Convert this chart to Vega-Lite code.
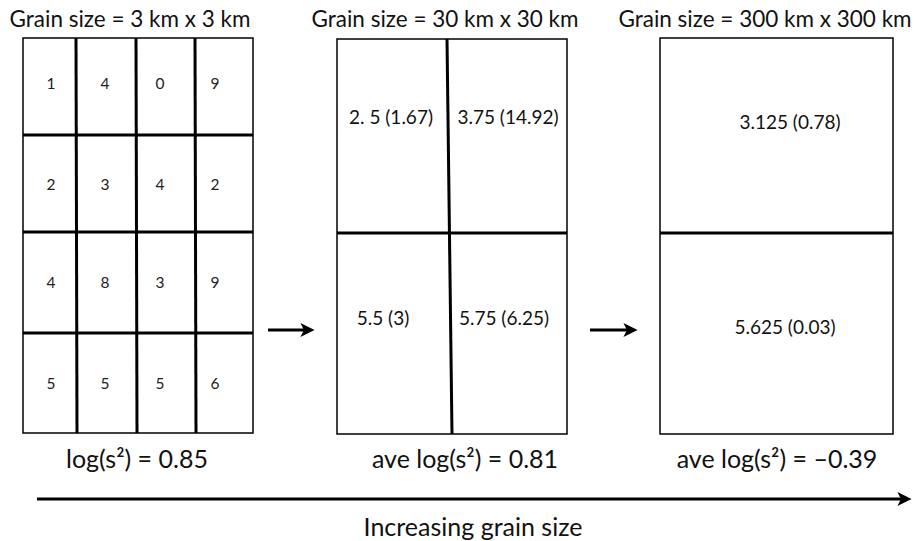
{
  "$schema": "https://vega.github.io/schema/vega-lite/v6.json",
  "width": 914,
  "height": 541,
  "autosize": {"type": "fit", "contains": "padding"},
  "padding": 0,
  "background": "white",
  "config": {"view": {"stroke": null}, "font": "Lato"},
  "datasets": {
    "boxes": [
      {"x1": 23, "x2": 253, "y1": 38, "y2": 433},
      {"x1": 337, "x2": 567, "y1": 39, "y2": 434},
      {"x1": 660, "x2": 893, "y1": 38, "y2": 434}
    ],
    "lines": [
      {"x1": 76, "x2": 77, "y1": 38, "y2": 433},
      {"x1": 136, "x2": 137, "y1": 38, "y2": 433},
      {"x1": 195, "x2": 196, "y1": 38, "y2": 433},
      {"x1": 23, "x2": 253, "y1": 135, "y2": 135},
      {"x1": 23, "x2": 253, "y1": 232, "y2": 232},
      {"x1": 23, "x2": 253, "y1": 333, "y2": 333},
      {"x1": 447, "x2": 452, "y1": 39, "y2": 434},
      {"x1": 337, "x2": 567, "y1": 233, "y2": 233},
      {"x1": 660, "x2": 893, "y1": 233, "y2": 233}
    ],
    "texts": [
      {"kind": "cell", "x": 51, "y": 89, "label": "1"},
      {"kind": "cell", "x": 105, "y": 89, "label": "4"},
      {"kind": "cell", "x": 160, "y": 89, "label": "0"},
      {"kind": "cell", "x": 215, "y": 89, "label": "9"},
      {"kind": "cell", "x": 51, "y": 190, "label": "2"},
      {"kind": "cell", "x": 105, "y": 190, "label": "3"},
      {"kind": "cell", "x": 160, "y": 190, "label": "4"},
      {"kind": "cell", "x": 215, "y": 190, "label": "2"},
      {"kind": "cell", "x": 51, "y": 288, "label": "4"},
      {"kind": "cell", "x": 105, "y": 288, "label": "8"},
      {"kind": "cell", "x": 160, "y": 288, "label": "3"},
      {"kind": "cell", "x": 215, "y": 288, "label": "9"},
      {"kind": "cell", "x": 51, "y": 389, "label": "5"},
      {"kind": "cell", "x": 105, "y": 389, "label": "5"},
      {"kind": "cell", "x": 160, "y": 389, "label": "5"},
      {"kind": "cell", "x": 215, "y": 389, "label": "6"},
      {"kind": "block", "x": 391, "y": 124, "label": "2. 5 (1.67)"},
      {"kind": "block", "x": 508, "y": 124, "label": "3.75 (14.92)"},
      {"kind": "block", "x": 383, "y": 325, "label": "5.5 (3)"},
      {"kind": "block", "x": 504, "y": 325, "label": "5.75 (6.25)"},
      {"kind": "block", "x": 790, "y": 129, "label": "3.125 (0.78)"},
      {"kind": "block", "x": 785, "y": 334, "label": "5.625 (0.03)"},
      {"kind": "title", "x": 130, "y": 27, "label": "Grain size = 3 km x 3 km"},
      {"kind": "title", "x": 445, "y": 27, "label": "Grain size = 30 km x 30 km"},
      {"kind": "title", "x": 765, "y": 27, "label": "Grain size = 300 km x 300 km"},
      {"kind": "stat", "x": 137, "y": 468, "label": "log(s²) = 0.85"},
      {"kind": "stat", "x": 465, "y": 468, "label": "ave log(s²) = 0.81"},
      {"kind": "stat", "x": 777, "y": 468, "label": "ave log(s²) = –0.39"},
      {"kind": "stat", "x": 473, "y": 536, "label": "Increasing grain size"}
    ],
    "arrows": [
      {"x1": 268, "x2": 305, "y": 330, "hx": 307.5},
      {"x1": 590, "x2": 628, "y": 330, "hx": 630.5},
      {"x1": 37, "x2": 902, "y": 499, "hx": 904.5}
    ]
  },
  "layer": [
    {
      "data": {"name": "boxes"},
      "mark": {"type": "rect", "fill": "white", "stroke": "black", "strokeWidth": 1.5},
      "encoding": {
        "x": {"field": "x1", "type": "quantitative", "scale": {"domain": [0, 914], "nice": false, "zero": false}, "axis": null},
        "x2": {"field": "x2"},
        "y": {"field": "y1", "type": "quantitative", "scale": {"domain": [0, 541], "nice": false, "zero": false, "reverse": true}, "axis": null},
        "y2": {"field": "y2"}
      }
    },
    {
      "data": {"name": "lines"},
      "mark": {"type": "rule", "stroke": "black", "strokeWidth": 3},
      "encoding": {
        "x": {"field": "x1", "type": "quantitative"},
        "x2": {"field": "x2"},
        "y": {"field": "y1", "type": "quantitative"},
        "y2": {"field": "y2"}
      }
    },
    {
      "data": {"name": "arrows"},
      "mark": {"type": "rule", "stroke": "black", "strokeWidth": 3},
      "encoding": {
        "x": {"field": "x1", "type": "quantitative"},
        "x2": {"field": "x2"},
        "y": {"field": "y", "type": "quantitative"}
      }
    },
    {
      "data": {"name": "arrows"},
      "mark": {"type": "point", "shape": "M-1,-1 L1,0 L-1,1 L-0.5,0 Z", "filled": true, "color": "black", "size": 200, "opacity": 1},
      "encoding": {
        "x": {"field": "hx", "type": "quantitative"},
        "y": {"field": "y", "type": "quantitative"}
      }
    },
    {
      "data": {"name": "texts"},
      "transform": [{"filter": "datum.kind === 'cell'"}],
      "mark": {"type": "text", "fontSize": 15.5, "align": "center", "baseline": "alphabetic", "color": "#222"},
      "encoding": {
        "x": {"field": "x", "type": "quantitative"},
        "y": {"field": "y", "type": "quantitative"},
        "text": {"field": "label"}
      }
    },
    {
      "data": {"name": "texts"},
      "transform": [{"filter": "datum.kind === 'block'"}],
      "mark": {"type": "text", "fontSize": 19, "align": "center", "baseline": "alphabetic", "color": "#111"},
      "encoding": {
        "x": {"field": "x", "type": "quantitative"},
        "y": {"field": "y", "type": "quantitative"},
        "text": {"field": "label"}
      }
    },
    {
      "data": {"name": "texts"},
      "transform": [{"filter": "datum.kind === 'title'"}],
      "mark": {"type": "text", "fontSize": 22.5, "align": "center", "baseline": "alphabetic", "color": "#111"},
      "encoding": {
        "x": {"field": "x", "type": "quantitative"},
        "y": {"field": "y", "type": "quantitative"},
        "text": {"field": "label"}
      }
    },
    {
      "data": {"name": "texts"},
      "transform": [{"filter": "datum.kind === 'stat'"}],
      "mark": {"type": "text", "fontSize": 25, "align": "center", "baseline": "alphabetic", "color": "#111"},
      "encoding": {
        "x": {"field": "x", "type": "quantitative"},
        "y": {"field": "y", "type": "quantitative"},
        "text": {"field": "label"}
      }
    }
  ]
}
